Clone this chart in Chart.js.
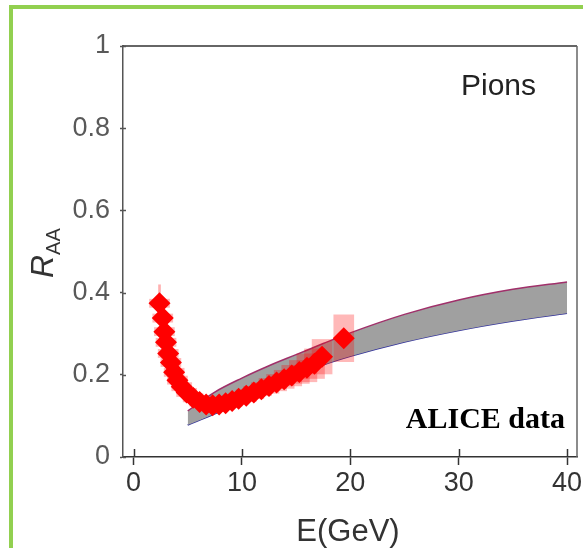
<!DOCTYPE html>
<html>
<head>
<meta charset="utf-8">
<script src="https://cdn.jsdelivr.net/npm/chart.js@4/dist/chart.umd.min.js"></script>
<style>
  html, body { margin: 0; padding: 0; background: #fff; overflow: hidden; }
  /* canvas is a bit wider than the window so the "40" label overflow lands past the frame */
  #wrap { position: absolute; left: 0; top: 0; width: 583px; height: 548px; overflow: hidden; }
</style>
</head>
<body>
<div id="wrap"><canvas id="chart" width="588" height="548"></canvas></div>
<script>
// ALICE pion data points (E in GeV, R_AA)
const energy = [2.4, 2.7, 2.85, 3.0, 3.2, 3.45, 3.75, 4.05, 4.45, 4.9, 5.5, 6.1, 6.7, 7.3, 7.9,
  8.5, 9.1, 9.7, 10.4, 11.1, 11.8, 12.5, 13.2, 13.9, 14.6, 15.3, 16.0, 16.7, 17.4, 19.4];
const raa = [0.374, 0.338, 0.305, 0.279, 0.252, 0.23, 0.206, 0.187, 0.171, 0.157, 0.144, 0.134, 0.128, 0.126, 0.128,
  0.131, 0.136, 0.142, 0.149, 0.157, 0.165, 0.173, 0.181, 0.189, 0.198, 0.207, 0.217, 0.227, 0.244, 0.289];
// systematic (boxes) and statistical (bars) errors
const sysErr = [0.01, 0.01, 0.01, 0.01, 0.01, 0.01, 0.01, 0.01, 0.01, 0.01, 0.01, 0.01, 0.01, 0.01, 0.01,
  0.01, 0.012, 0.012, 0.014, 0.015, 0.016, 0.018, 0.02, 0.022, 0.025, 0.028, 0.034, 0.036, 0.042, 0.057];
const statErr = [0.045, 0, 0, 0, 0, 0, 0, 0, 0, 0, 0, 0, 0, 0, 0,
  0, 0, 0, 0, 0, 0, 0, 0, 0, 0, 0, 0, 0, 0, 0];

// model band
const bandE = [5, 7.5, 10, 12.5, 15, 17.5, 20, 25, 30, 35, 40];
const bandUpper = [0.112, 0.158, 0.192, 0.222, 0.249, 0.276, 0.302, 0.347, 0.382, 0.408, 0.426];
const bandLower = [0.078, 0.105, 0.135, 0.167, 0.198, 0.224, 0.245, 0.28, 0.308, 0.331, 0.35];

const xTicks = [0, 10, 20, 30, 40];
const yTicks = [0, 0.2, 0.4, 0.6, 0.8, 1];

const pts = energy.map((e, i) => ({ x: e, y: raa[i] }));
const sysBoxes = energy.map((e, i) => ({ x: e, y: [raa[i] - sysErr[i], raa[i] + sysErr[i]] }));
const statBars = energy.map((e, i) => ({ x: e, y: [raa[i] - statErr[i], raa[i] + statErr[i]] }))
  .filter((d, i) => statErr[i] > 0);

// green slide frame, inner tick stubs, box frame and text labels
const decor = {
  id: 'decor',
  beforeDraw(chart) {
    const ctx = chart.ctx;
    ctx.save();
    ctx.fillStyle = '#92d050';
    ctx.fillRect(9, 5, chart.width - 9, 4);
    ctx.fillRect(9, 5, 4, chart.height - 5);
    ctx.restore();
  },
  afterDatasetsDraw(chart) {
    const { ctx, chartArea: a, scales } = chart;
    ctx.save();
    ctx.strokeStyle = '#333';
    ctx.lineWidth = 1.5;
    ctx.beginPath();
    ctx.moveTo(a.left, a.top);
    ctx.lineTo(a.right, a.top);
    ctx.stroke();
    ctx.strokeStyle = '#666';
    ctx.beginPath();
    ctx.moveTo(a.right, a.top);
    ctx.lineTo(a.right, a.bottom);
    ctx.stroke();
    ctx.strokeStyle = '#333';
    xTicks.forEach(t => {
      const px = Math.round(scales.x.getPixelForValue(t)) + 0.5;
      ctx.beginPath();
      ctx.moveTo(px, a.bottom);
      ctx.lineTo(px, a.bottom - 8);
      ctx.stroke();
    });
    ctx.strokeStyle = '#555';
    yTicks.forEach(t => {
      const py = Math.round(scales.y.getPixelForValue(t)) + 0.5;
      ctx.beginPath();
      ctx.moveTo(a.left, py);
      ctx.lineTo(a.left + 3, py);
      ctx.stroke();
    });
    ctx.restore();
  },
  afterDraw(chart) {
    const ctx = chart.ctx;
    ctx.save();
    ctx.fillStyle = '#222';
    ctx.font = '30px "Liberation Sans", Arial, sans-serif';
    ctx.textAlign = 'left';
    ctx.textBaseline = 'alphabetic';
    ctx.fillText('Pions', 461, 95);

    ctx.fillStyle = '#000';
    ctx.font = 'bold 30px "Liberation Serif", "Times New Roman", serif';
    ctx.textAlign = 'right';
    ctx.fillText('ALICE data', 565, 428);

    ctx.fillStyle = '#333';
    ctx.font = '31px "Liberation Sans", Arial, sans-serif';
    ctx.textAlign = 'center';
    ctx.fillText('E(GeV)', 348, 541);

    // y title R_AA, rotated
    ctx.translate(53, 278);
    ctx.rotate(-Math.PI / 2);
    ctx.textAlign = 'left';
    ctx.font = 'italic 32px "Liberation Sans", Arial, sans-serif';
    ctx.fillText('R', 0, 0);
    const w = ctx.measureText('R').width;
    ctx.font = '20px "Liberation Sans", Arial, sans-serif';
    ctx.fillText('AA', w, 7);
    ctx.restore();
  }
};

new Chart(document.getElementById('chart'), {
  type: 'scatter',
  data: {
    datasets: [
      {
        type: 'scatter',
        data: pts,
        pointStyle: 'rectRot',
        pointRadius: 11,
        pointBackgroundColor: '#ff0000',
        pointBorderWidth: 0,
        order: 0
      },
      {
        type: 'bar',
        data: statBars,
        backgroundColor: 'rgba(255,80,80,0.45)',
        barThickness: 2,
        grouped: false,
        order: 1
      },
      {
        type: 'bar',
        data: sysBoxes,
        backgroundColor: 'rgba(255,0,0,0.28)',
        barThickness: 20,
        grouped: false,
        order: 1
      },
      {
        type: 'line',
        data: bandE.map((e, i) => ({ x: e, y: bandLower[i] })),
        borderColor: '#33339a',
        borderWidth: 1.5,
        pointRadius: 0,
        cubicInterpolationMode: 'monotone',
        fill: false,
        order: 3
      },
      {
        type: 'line',
        data: bandE.map((e, i) => ({ x: e, y: bandUpper[i] })),
        borderColor: '#a0306a',
        borderWidth: 1.5,
        backgroundColor: '#a0a0a0',
        pointRadius: 0,
        cubicInterpolationMode: 'monotone',
        fill: '-1',
        order: 2
      }
    ]
  },
  options: {
    responsive: false,
    animation: false,
    layout: { padding: { left: 0, top: 46, right: 0, bottom: 0 } },
    plugins: { legend: { display: false }, tooltip: { enabled: false } },
    scales: {
      x: {
        type: 'linear',
        offset: false,
        min: -0.97,
        max: 40.92,
        border: { color: '#333', width: 1.5 },
        grid: { offset: false, drawOnChartArea: false, tickLength: 8, tickColor: '#333', tickWidth: 1.5 },
        ticks: {
          stepSize: 10,
          includeBounds: false,
          padding: 2,
          color: '#333',
          font: { family: '"Liberation Sans", Arial, sans-serif', size: 27 }
        },
        afterFit(scale) { scale.height = 91; }
      },
      y: {
        type: 'linear',
        min: 0,
        max: 1,
        border: { color: '#555', width: 1.5 },
        grid: { drawOnChartArea: false, tickLength: 3, tickColor: '#555', tickWidth: 1.5 },
        ticks: {
          stepSize: 0.2,
          padding: 10,
          color: '#595959',
          font: { family: '"Liberation Sans", Arial, sans-serif', size: 27 },
          callback: v => String(+v.toFixed(1))
        },
        afterFit(scale) { scale.width = 123; }
      }
    }
  },
  plugins: [decor]
});
</script>
</body>
</html>
